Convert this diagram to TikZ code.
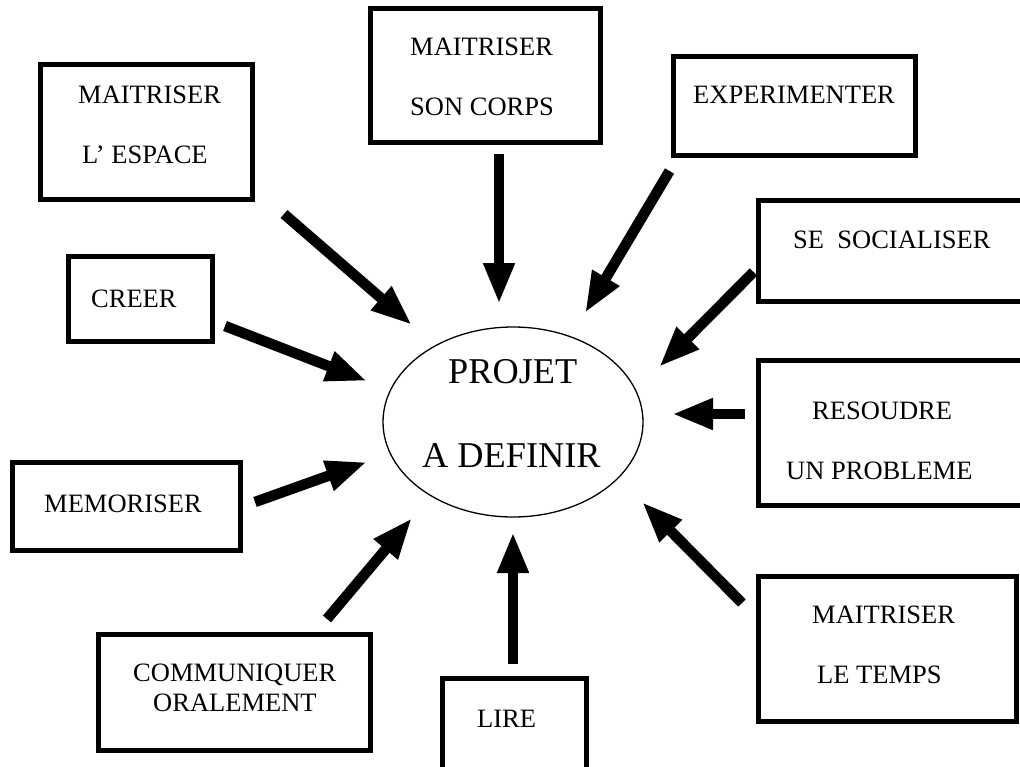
\documentclass[tikz,border=0pt]{standalone}
\usepackage{fontspec}
\setmainfont{Liberation Serif}
\usetikzlibrary{arrows.meta,shapes.geometric}
\begin{document}
\begin{tikzpicture}[x=1pt,y=-1pt,
  box/.style={draw,rectangle,line width=5pt,inner sep=0pt},
  lbl/.style={font=\fontsize{26.5}{30}\selectfont,anchor=base west,inner sep=0pt},
  big/.style={font=\fontsize{36.3}{40}\selectfont,anchor=base west,inner sep=0pt},
  arr/.style={line width=10.5pt,-{Triangle[length=41pt,width=29pt]}}]
\useasboundingbox (0,0) rectangle (1020,766);
\clip (0,0) rectangle (1020,766);
% boxes
\node[box,minimum width=212pt,minimum height=135pt] (espace) at (146.5,132) {};
\node[box,minimum width=230pt,minimum height=134pt] (corps) at (485.5,75.5) {};
\node[box,minimum width=242pt,minimum height=99pt] (exper) at (794.5,106) {};
\node[box,minimum width=281.5pt,minimum height=101pt] (social) at (899.25,251) {};
\node[box,minimum width=281.5pt,minimum height=145pt] (resoudre) at (899.25,433) {};
\node[box,minimum width=258pt,minimum height=145pt] (temps) at (887.5,649) {};
\node[box,minimum width=144pt,minimum height=111.5pt] (lire) at (514.5,734.25) {};
\node[box,minimum width=272pt,minimum height=116pt] (commun) at (234.5,692.5) {};
\node[box,minimum width=228pt,minimum height=88pt] (memo) at (126.5,506.5) {};
\node[box,minimum width=144pt,minimum height=85pt] (creer) at (140.5,299) {};
% centre
\node[draw,ellipse,line width=1.3pt,minimum width=260pt,minimum height=190pt] (projet) at (513,422) {};
% texts
\node[lbl] (t1a) at (78,103) {MAITRISER};
\node[lbl] (t1b) at (82,163) {L’ ESPACE};
\node[lbl] (t2a) at (410,55) {MAITRISER};
\node[lbl] (t2b) at (410,115) {SON CORPS};
\node[lbl] (t3) at (693,103) {EXPERIMENTER};
\node[lbl] (t4) at (793,248) {SE\ \ SOCIALISER};
\node[lbl] (t5a) at (812,419) {RESOUDRE};
\node[lbl] (t5b) at (786,479) {UN PROBLEME};
\node[lbl] (t6a) at (812,623) {MAITRISER};
\node[lbl] (t6b) at (817,683) {LE TEMPS};
\node[lbl] (t7) at (477,727) {LIRE};
\node[lbl] (t8a) at (133,681) {COMMUNIQUER};
\node[lbl] (t8b) at (153,711) {ORALEMENT};
\node[lbl] (t9) at (44,512) {MEMORISER};
\node[lbl] (t10) at (91,307) {CREER};
\node[big] (p1) at (448,383) {PROJET};
\node[big] (p2) at (422,467) {A DEFINIR};
% arrow ends
\coordinate (s1) at (284,214);   \coordinate (e1) at (412,325);
\coordinate (s2) at (499,154);   \coordinate (e2) at (499,304);
\coordinate (s3) at (669.5,171); \coordinate (e3) at (585,313);
\coordinate (s4) at (753.5,272); \coordinate (e4) at (659,367);
\coordinate (s5) at (225,326);   \coordinate (e5) at (367,381);
\coordinate (s6) at (255,502);   \coordinate (e6) at (367,462);
\coordinate (s7) at (327,619);   \coordinate (e7) at (412,518);
\coordinate (s8) at (513,664);   \coordinate (e8) at (513,532);
\coordinate (s9) at (745,414);   \coordinate (e9) at (672,414);
\coordinate (s10) at (742,603);  \coordinate (e10) at (642,502);
\foreach \i in {1,...,10} {\draw[arr] (s\i) -- (e\i);}
\end{tikzpicture}
\end{document}
